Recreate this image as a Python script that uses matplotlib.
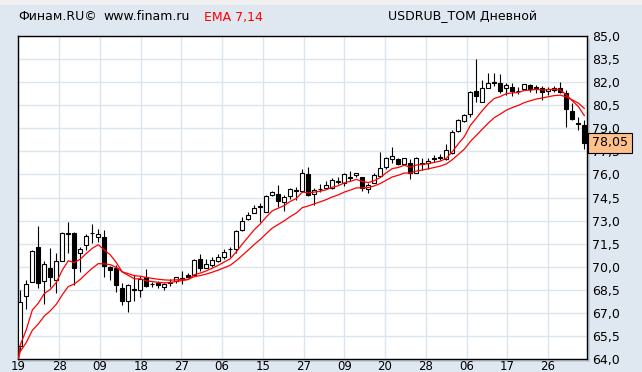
import numpy as np
import pandas as pd
import matplotlib
matplotlib.use("Agg")
import matplotlib.pyplot as plt
from matplotlib.patches import Rectangle
from matplotlib.transforms import ScaledTranslation, blended_transform_factory

plt.rcParams["font.family"] = ["DejaVu Sans"]

# ── данные: дневные свечи USDRUB_TOM ─────────────────────────
opens = [64.87, 68.12, 69.03, 71.28, 69.05, 69.92, 69.11, 70.39, 72.15, 72.19,
         70.87, 71.39, 72.17, 71.91, 71.95, 69.98, 69.89, 68.61, 67.75, 68.51,
         68.49, 69.31, 68.90, 68.92, 68.70, 68.97, 69.09, 69.23, 69.46, 69.46,
         70.50, 69.90, 70.11, 70.39, 70.65, 71.12, 71.13, 72.37, 73.10, 73.47,
         73.88, 73.58, 74.66, 74.73, 74.23, 74.57, 74.95, 74.92, 76.03, 74.73,
         75.03, 75.10, 75.10, 75.51, 75.42, 75.79, 75.96, 75.85, 75.07, 75.42,
         75.90, 76.46, 76.98, 76.98, 76.66, 76.76, 76.11, 76.70, 76.72, 77.10,
         77.10, 76.98, 77.37, 78.80, 79.45, 79.93, 81.42, 80.73, 81.60, 82.03,
         81.92, 81.60, 81.66, 81.42, 81.55, 81.81, 81.65, 81.60, 81.40, 81.49,
         81.64, 81.27, 80.12, 79.35, 79.21]
highs = [68.49, 69.14, 71.10, 72.67, 70.37, 71.24, 70.87, 72.26, 72.88, 72.25,
         71.30, 72.10, 72.78, 72.43, 72.39, 70.05, 70.11, 68.92, 68.88, 69.44,
         69.40, 69.85, 69.03, 69.09, 68.96, 69.18, 69.35, 69.72, 69.57, 70.48,
         70.80, 70.48, 70.65, 70.83, 71.13, 71.26, 72.39, 73.25, 73.54, 74.01,
         74.12, 74.66, 74.94, 75.31, 74.68, 75.10, 75.20, 76.33, 76.46, 75.10,
         75.38, 75.59, 75.75, 75.85, 76.07, 76.24, 76.11, 75.85, 75.42, 76.07,
         77.43, 77.11, 77.76, 77.05, 77.05, 76.98, 77.15, 77.05, 77.09, 77.26,
         77.33, 77.96, 78.89, 79.63, 79.91, 81.40, 83.50, 82.14, 82.57, 82.62,
         82.53, 81.92, 81.97, 81.70, 81.86, 81.88, 81.81, 81.75, 81.70, 81.75,
         82.03, 81.49, 80.62, 79.75, 79.54]
lows = [64.60, 67.23, 69.00, 68.64, 67.58, 68.70, 68.31, 70.39, 70.87, 68.81,
        69.68, 71.09, 71.56, 71.63, 69.35, 69.14, 68.36, 67.53, 67.06, 67.75,
        68.05, 68.70, 68.70, 68.60, 68.49, 68.75, 68.96, 68.88, 69.31, 69.46,
        69.74, 69.90, 70.00, 70.33, 70.48, 70.65, 70.91, 72.35, 73.04, 73.47,
        72.93, 73.58, 74.60, 73.90, 73.64, 74.38, 74.34, 74.85, 74.60, 74.01,
        74.88, 75.05, 75.05, 75.36, 75.25, 75.57, 75.85, 74.90, 74.77, 75.42,
        75.81, 76.33, 76.72, 76.61, 76.61, 75.72, 76.11, 76.29, 76.33, 76.83,
        76.94, 76.94, 77.33, 78.76, 79.41, 79.76, 80.71, 80.73, 81.60, 81.75,
        81.32, 81.16, 81.10, 81.23, 81.55, 81.38, 81.32, 80.84, 81.16, 81.38,
        81.27, 79.06, 79.54, 78.89, 77.63]
closes = [67.68, 68.85, 71.02, 68.96, 70.15, 69.31, 70.35, 72.19, 72.20, 69.94,
          71.13, 71.99, 72.20, 72.13, 70.07, 69.81, 68.79, 67.79, 68.79, 68.55,
          69.18, 68.75, 68.86, 68.81, 68.88, 68.99, 69.31, 69.25, 69.35, 70.44,
          69.90, 70.15, 70.44, 70.65, 70.96, 71.14, 72.32, 72.97, 73.36, 73.80,
          73.92, 74.60, 74.84, 74.30, 74.51, 75.05, 74.99, 76.11, 74.66, 74.99,
          75.07, 75.31, 75.64, 75.55, 76.03, 75.83, 76.07, 75.10, 75.29, 75.96,
          76.40, 77.05, 77.20, 76.66, 77.05, 76.07, 77.05, 76.74, 76.87, 77.02,
          77.12, 77.59, 78.76, 79.54, 79.84, 81.36, 81.12, 81.60, 81.92, 81.97,
          81.45, 81.81, 81.45, 81.40, 81.86, 81.55, 81.67, 81.38, 81.58, 81.62,
          81.34, 80.28, 79.60, 79.30, 78.05]
ema_seed = 64.0
ema_periods = [7, 14]

date_labels = ["19", "28", "09", "18", "27", "06", "15", "27", "09", "20",
               "28", "06", "17", "26"]
y_ticks = np.arange(64.0, 85.01, 1.5)

df = pd.DataFrame({"o": opens, "h": highs, "l": lows, "c": closes})
n = len(df)
idx = np.arange(n)


def ema(values, period, seed):
    a = 2.0 / (period + 1)
    out, prev = [], seed
    for v in values:
        prev = prev + a * (v - prev)
        out.append(prev)
    return np.array(out)


# ── фигура ──────────────────────────────────────────────────
W, H = 642, 372
fig = plt.figure(figsize=(W / 100, H / 100), dpi=100)
fig.patch.set_facecolor("#dfe8f1")
fig.patches.append(Rectangle((0, 1 - 5 / H), 1, 5 / H, transform=fig.transFigure,
                             fc="#f0f0f0", ec="none", zorder=-2))

L, R, T, B = 18.4, 587.0, 36.0, 359.0
# тень справа/снизу
fig.patches.append(Rectangle(((L + 3) / W, (H - B - 3) / H), (R - L) / W, (B - T) / H,
                             transform=fig.transFigure, fc="#c3cfdb", ec="none", zorder=-1))
ax = fig.add_axes([L / W, (H - B) / H, (R - L) / W, (B - T) / H])
ax.set_facecolor("white")

ax.set_xlim(-0.317, 94.45)
ax.set_ylim(64.0, 85.0)

# сетка
xg = np.linspace(-0.317, 87.95, len(date_labels))
for x in xg:
    ax.axvline(x, color="#dbe5ef", lw=1.0, zorder=0)
for y in y_ticks:
    ax.axhline(y, color="#dbe5ef", lw=1.0, zorder=0)

# свечи
up = df["c"] >= df["o"]
ax.vlines(idx, df["l"], df["h"], color="black", lw=0.8, zorder=2)
bottom = np.minimum(df["o"], df["c"])
height = np.abs(df["c"] - df["o"])
ax.bar(idx, height, bottom=bottom, width=0.68,
       color=np.where(up, "white", "black"), edgecolor="black", linewidth=0.8, zorder=3)

# EMA
for p in ema_periods:
    e = ema(df["c"].values, p, ema_seed)
    ax.plot(np.concatenate([[-0.317], idx]), np.concatenate([[ema_seed], e]),
            color="#ff0000", lw=0.9, zorder=4)

# оси
ax.set_xticks(xg)
ax.set_xticklabels(date_labels, fontsize=8.5)
for lab in ax.get_xticklabels():
    lab.set_transform(lab.get_transform() + ScaledTranslation(4 / 100, 0, fig.dpi_scale_trans))
ax.tick_params(axis="x", length=0, pad=0.5)
ax.yaxis.tick_right()
ax.set_yticks(y_ticks)
ax.set_yticklabels([f"{v:.1f}".replace(".", ",") for v in y_ticks], fontsize=9)
ax.tick_params(axis="y", length=0, pad=3.6)
for s in ax.spines.values():
    s.set_color("black")
    s.set_linewidth(1.0)

# текущая цена
tr = blended_transform_factory(ax.transAxes, ax.transData)
last = closes[-1]
ax.text(1.0 + 5 / (R - L), last, f"{last:.2f}".replace(".", ","), transform=tr,
        fontsize=9, ha="left", va="center", zorder=10, clip_on=False,
        bbox=dict(boxstyle="square,pad=0.3", fc="#ffc08c", ec="black", lw=0.8))

# заголовок
ty = 1 - 17 / H
fig.text(18.4 / W, ty, "Финам.RU©", fontsize=9, va="center")
fig.text(103.3 / W, ty, "www.finam.ru", fontsize=9, va="center")
fig.text(203.7 / W, ty, "EMA 7,14", fontsize=9, va="center", color="#ff0000")
fig.text(388.5 / W, ty, "USDRUB_TOM Дневной", fontsize=9, va="center")

fig.savefig("out.png", dpi=100)
